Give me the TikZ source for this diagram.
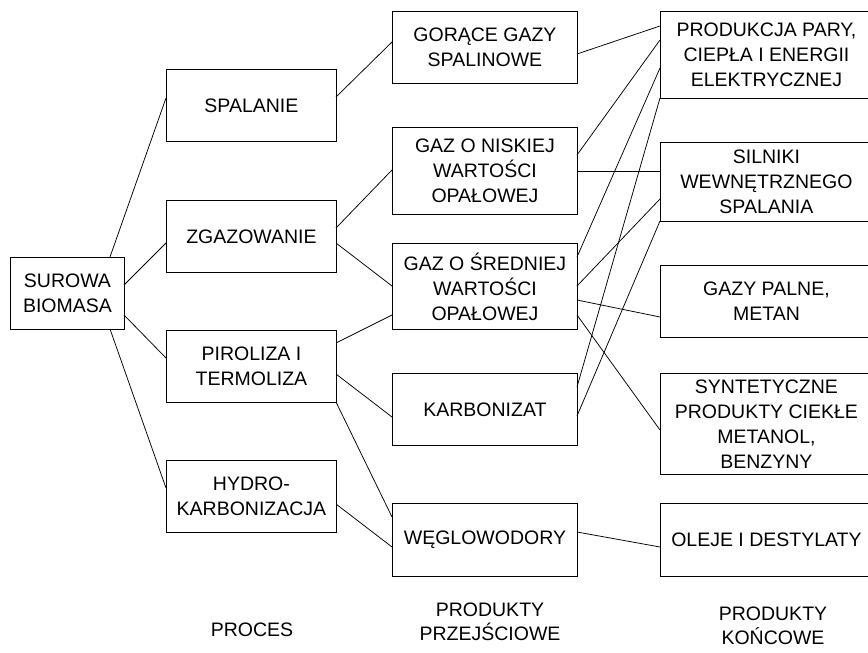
\documentclass[tikz,border=0pt]{standalone}
\usepackage{fontspec}
\setmainfont{Liberation Sans}
\usetikzlibrary{calc}
\begin{document}
\begin{tikzpicture}[x=1pt,y=-1pt,
  box/.style={draw=black,line width=0.9pt,rectangle,inner sep=0pt,align=center,
    font=\fontsize{19.5}{25}\selectfont,anchor=north west},
  lbl/.style={inner sep=0pt,align=center,font=\fontsize{19.5}{24}\selectfont},
  conn/.style={draw=black,line width=0.75pt}]
\useasboundingbox (0,0) rectangle (868,653);
% column 1
\node[box,minimum width=114pt,minimum height=72pt] (sur) at (10,257) {SUROWA\\BIOMASA};
% column 2
\node[box,minimum width=170pt,minimum height=72pt] (spa) at (166,69) {SPALANIE};
\node[box,minimum width=170pt,minimum height=72pt] (zga) at (166,200) {ZGAZOWANIE};
\node[box,minimum width=170pt,minimum height=72pt] (pir) at (166,330) {PIROLIZA I\\TERMOLIZA};
\node[box,minimum width=170pt,minimum height=72pt] (hyd) at (166,460) {HYDRO-\\KARBONIZACJA};
% column 3
\node[box,minimum width=185pt,minimum height=72pt] (gor) at (392,11) {GORĄCE GAZY\\SPALINOWE};
\node[box,minimum width=185pt,minimum height=87pt] (nis) at (392,127) {GAZ O NISKIEJ\\WARTOŚCI\\OPAŁOWEJ};
\node[box,minimum width=185pt,minimum height=86pt] (sre) at (392,243) {GAZ O ŚREDNIEJ\\WARTOŚCI\\OPAŁOWEJ};
\node[box,minimum width=185pt,minimum height=72pt] (kar) at (392,373) {KARBONIZAT};
\node[box,minimum width=185pt,minimum height=73pt] (weg) at (392,503) {WĘGLOWODORY};
% column 4
\node[box,minimum width=212pt,minimum height=87pt] (pro) at (660,11) {PRODUKCJA PARY,\\CIEPŁA I ENERGII\\ELEKTRYCZNEJ};
\node[box,minimum width=212pt,minimum height=79pt] (sil) at (660,142) {SILNIKI\\WEWNĘTRZNEGO\\SPALANIA};
\node[box,minimum width=212pt,minimum height=72pt] (gpa) at (660,265) {GAZY PALNE,\\METAN};
\node[box,minimum width=212pt,minimum height=101pt] (syn) at (660,373) {SYNTETYCZNE\\PRODUKTY CIEKŁE\\METANOL,\\BENZYNY};
\node[box,minimum width=212pt,minimum height=73pt] (ole) at (660,503) {OLEJE I DESTYLATY};
% labels
\node[lbl] (l1) at (252,630) {PROCES};
\node[lbl] (l2) at (490,622) {PRODUKTY\\PRZEJŚCIOWE};
\node[lbl] (l3) at (773,626) {PRODUKTY\\KOŃCOWE};
% connectors
\newcommand{\lnk}[6]{\draw[conn] ($(#1.north west)+(#2,#3)$) -- ($(#4.north west)+(#5,#6)$);}
\lnk{sur}{100}{0}{spa}{0}{29}
\lnk{sur}{114}{28}{zga}{0}{43}
\lnk{sur}{114}{58}{pir}{0}{28}
\lnk{sur}{100}{72}{hyd}{0}{28}
\lnk{spa}{170}{28}{gor}{0}{31}
\lnk{zga}{170}{28}{nis}{0}{43}
\lnk{zga}{170}{43}{sre}{0}{43}
\lnk{pir}{170}{13}{sre}{0}{72}
\lnk{pir}{170}{44}{kar}{0}{44}
\lnk{pir}{170}{72}{weg}{0}{14}
\lnk{hyd}{170}{44}{weg}{0}{44}
\lnk{gor}{185}{43}{pro}{0}{15}
\lnk{nis}{185}{28}{pro}{0}{29}
\lnk{nis}{185}{44}{sil}{0}{29}
\lnk{sre}{185}{14}{pro}{0}{57}
\lnk{sre}{185}{43}{sil}{0}{57}
\lnk{sre}{185}{57}{gpa}{0}{52}
\lnk{sre}{185}{72}{syn}{0}{57}
\lnk{kar}{185}{14}{pro}{0}{87}
\lnk{kar}{185}{43}{sil}{0}{79}
\lnk{weg}{185}{29}{ole}{0}{44}
\end{tikzpicture}
\end{document}
